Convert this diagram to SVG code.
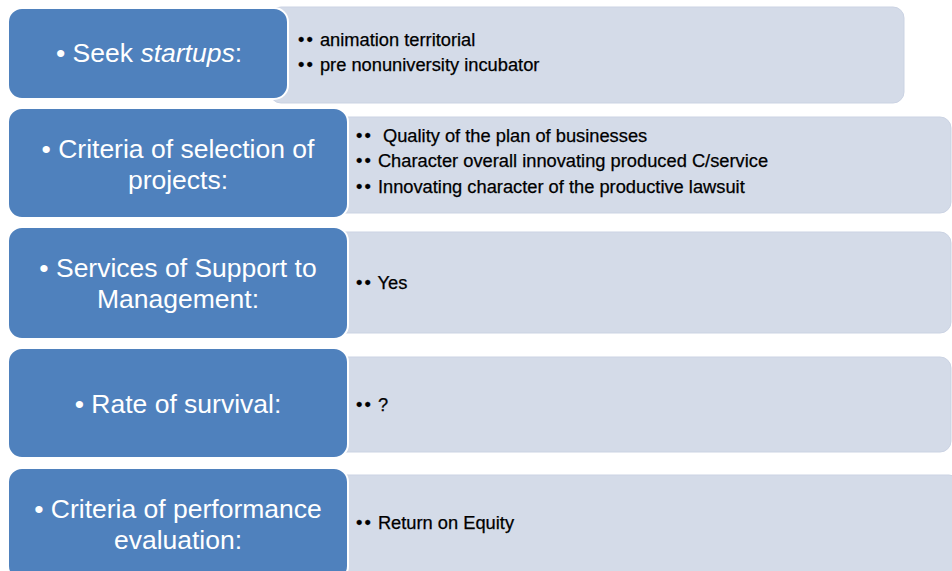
<svg xmlns="http://www.w3.org/2000/svg" width="952" height="571" viewBox="0 0 952 571">
<style>
.lb{fill:#D4DBE8;stroke:#CBD3E3;stroke-width:1}
.bb{fill:#4F81BD;stroke:#FFFFFF;stroke-width:2}
.bt{font-family:"Liberation Sans",Arial,sans-serif;font-size:26.5px;fill:#FFFFFF;text-anchor:middle}
.lt{font-family:"Liberation Sans",Arial,sans-serif;font-size:18.3px;fill:#000000;stroke:#000000;stroke-width:0.25}
.bu{letter-spacing:2px}
</style>
<rect width="952" height="571" fill="#FFFFFF"/>
<g id="connectors"></g>
<g id="row1">
<rect class="lb" x="270" y="7" width="634" height="96" rx="11"/>
<rect class="bb" x="8" y="8" width="280" height="91" rx="14"/>
<text class="bt" x="149" y="62">• Seek <tspan font-style="italic">startups</tspan>:</text>
<text class="lt" x="298" y="46"><tspan class="bu">••</tspan> animation territorial</text>
<text class="lt" x="298" y="71"><tspan class="bu">••</tspan> pre nonuniversity incubator</text>
</g>
<g id="row2">
<rect class="lb" x="330" y="117" width="621" height="96" rx="11"/>
<rect class="bb" x="8" y="108" width="340" height="110" rx="14"/>
<text class="bt" x="178" y="158">• Criteria of selection of</text>
<text class="bt" x="178" y="189">projects:</text>
<text class="lt" x="356" y="142" xml:space="preserve"><tspan class="bu">••</tspan>  Quality of the plan of businesses</text>
<text class="lt" x="356" y="167"><tspan class="bu">••</tspan> Character overall innovating produced C/service</text>
<text class="lt" x="356" y="193"><tspan class="bu">••</tspan> Innovating character of the productive lawsuit</text>
</g>
<g id="row3">
<rect class="lb" x="330" y="232" width="621" height="101" rx="11"/>
<rect class="bb" x="8" y="227" width="340" height="112" rx="14"/>
<text class="bt" x="178" y="277">• Services of Support to</text>
<text class="bt" x="178" y="308">Management:</text>
<text class="lt" x="356" y="289"><tspan class="bu">••</tspan> Yes</text>
</g>
<g id="row4">
<rect class="lb" x="330" y="357" width="621" height="95" rx="11"/>
<rect class="bb" x="8" y="348" width="340" height="110" rx="14"/>
<text class="bt" x="178" y="413">• Rate of survival:</text>
<text class="lt" x="356" y="411"><tspan class="bu">••</tspan> ?</text>
</g>
<g id="row5">
<rect class="lb" x="330" y="475" width="630" height="110" rx="11"/>
<rect class="bb" x="8" y="468" width="340" height="112" rx="14"/>
<text class="bt" x="178" y="518">• Criteria of performance</text>
<text class="bt" x="178" y="549">evaluation:</text>
<text class="lt" x="356" y="529"><tspan class="bu">••</tspan> Return on Equity</text>
</g>
</svg>
